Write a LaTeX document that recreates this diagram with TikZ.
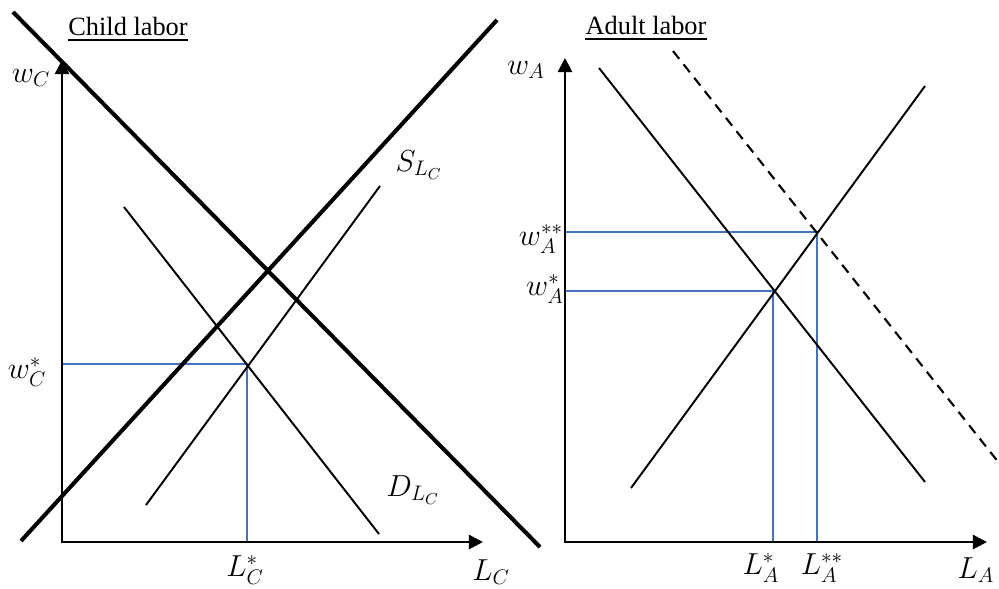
\documentclass[tikz,border=0pt]{standalone}
\usepackage{fontspec}
\setmainfont{Liberation Serif}
\usetikzlibrary{arrows.meta}
\definecolor{eqblue}{RGB}{68,114,196}
\tikzset{
  axis/.style={line width=1.4pt,{Triangle[length=8pt,width=8pt]}-{Triangle[length=8pt,width=8pt]}},
  thickline/.style={line width=2.3pt},
  curve/.style={line width=1.1pt},
  shifted/.style={line width=1.2pt,dash pattern=on 5.7pt off 4pt},
  guide/.style={eqblue,line width=1pt},
  lbl/.style={font=\fontsize{18}{20}\selectfont,inner sep=0pt},
  ttl/.style={font=\fontsize{15}{17}\selectfont,inner sep=0pt,anchor=base}
}
\begin{document}
\begin{tikzpicture}[x=0.02cm,y=-0.02cm]
  \useasboundingbox (0,0) rectangle (999,588);
  % Child labor
  \coordinate (oc) at (62,542);
  \coordinate (yc) at (62,60);
  \coordinate (xc) at (483,542);
  \coordinate (eqc) at (247,364);
  \draw[guide] (eqc -| oc) -- (eqc) -- (eqc |- oc);
  \draw[axis] (yc) -- (oc) -- (xc);
  \coordinate (dc1) at (13,12);
  \coordinate (dc2) at (540,547);
  \coordinate (sc1) at (21,541);
  \coordinate (sc2) at (497,20);
  \draw[thickline] (dc1) -- (dc2);
  \draw[thickline] (sc1) -- (sc2);
  \coordinate (dlc1) at (124,207);
  \coordinate (dlc2) at (379,534);
  \coordinate (slc1) at (146,505);
  \coordinate (slc2) at (380,186);
  \draw[curve] (dlc1) -- (dlc2);
  \draw[curve] (slc1) -- (slc2);
  \node[ttl] (ctitle) at (128,36) {Child labor};
  \draw[line width=1pt] ([yshift=-2.4pt]ctitle.base west) -- ([yshift=-2.4pt]ctitle.base east);
  \node[lbl] (wc) at (31,78) {$w_C$};
  \node[lbl] (wcs) at (27,372) {$w_C^*$};
  \node[lbl] (lcs) at (245,570) {$L_C^*$};
  \node[lbl] (lc) at (491,572) {$L_C$};
  \node[lbl] (dlab) at (413,490) {$D_{L_C}$};
  \node[lbl] (slab) at (419,165) {$S_{L_C}$};
  % Adult labor
  \coordinate (oa) at (565,542);
  \coordinate (ya) at (565,58);
  \coordinate (xa) at (987,542);
  \coordinate (eqa) at (773,291);
  \coordinate (eqb) at (817,232);
  \draw[guide] (eqa -| oa) -- (eqa) -- (eqa |- oa);
  \draw[guide] (eqb -| oa) -- (eqb) -- (eqb |- oa);
  \draw[axis] (ya) -- (oa) -- (xa);
  \coordinate (da1) at (599,68);
  \coordinate (da2) at (925,482);
  \coordinate (db1) at (673,51);
  \coordinate (db2) at (999,463);
  \coordinate (sa1) at (631,488);
  \coordinate (sa2) at (925,86);
  \draw[curve] (da1) -- (da2);
  \draw[shifted] (db1) -- (db2);
  \draw[curve] (sa1) -- (sa2);
  \node[ttl] (atitle) at (646,35) {Adult labor};
  \draw[line width=1pt] ([yshift=-2.4pt]atitle.base west) -- ([yshift=-2.4pt]atitle.base east);
  \node[lbl] (wa) at (526,70) {$w_A$};
  \node[lbl] (wass) at (541,239) {$w_A^{**}$};
  \node[lbl] (was) at (545,289) {$w_A^*$};
  \node[lbl] (las) at (761,568) {$L_A^*$};
  \node[lbl] (lass) at (822,568) {$L_A^{**}$};
  \node[lbl] (la) at (976,570) {$L_A$};
\end{tikzpicture}
\end{document}
